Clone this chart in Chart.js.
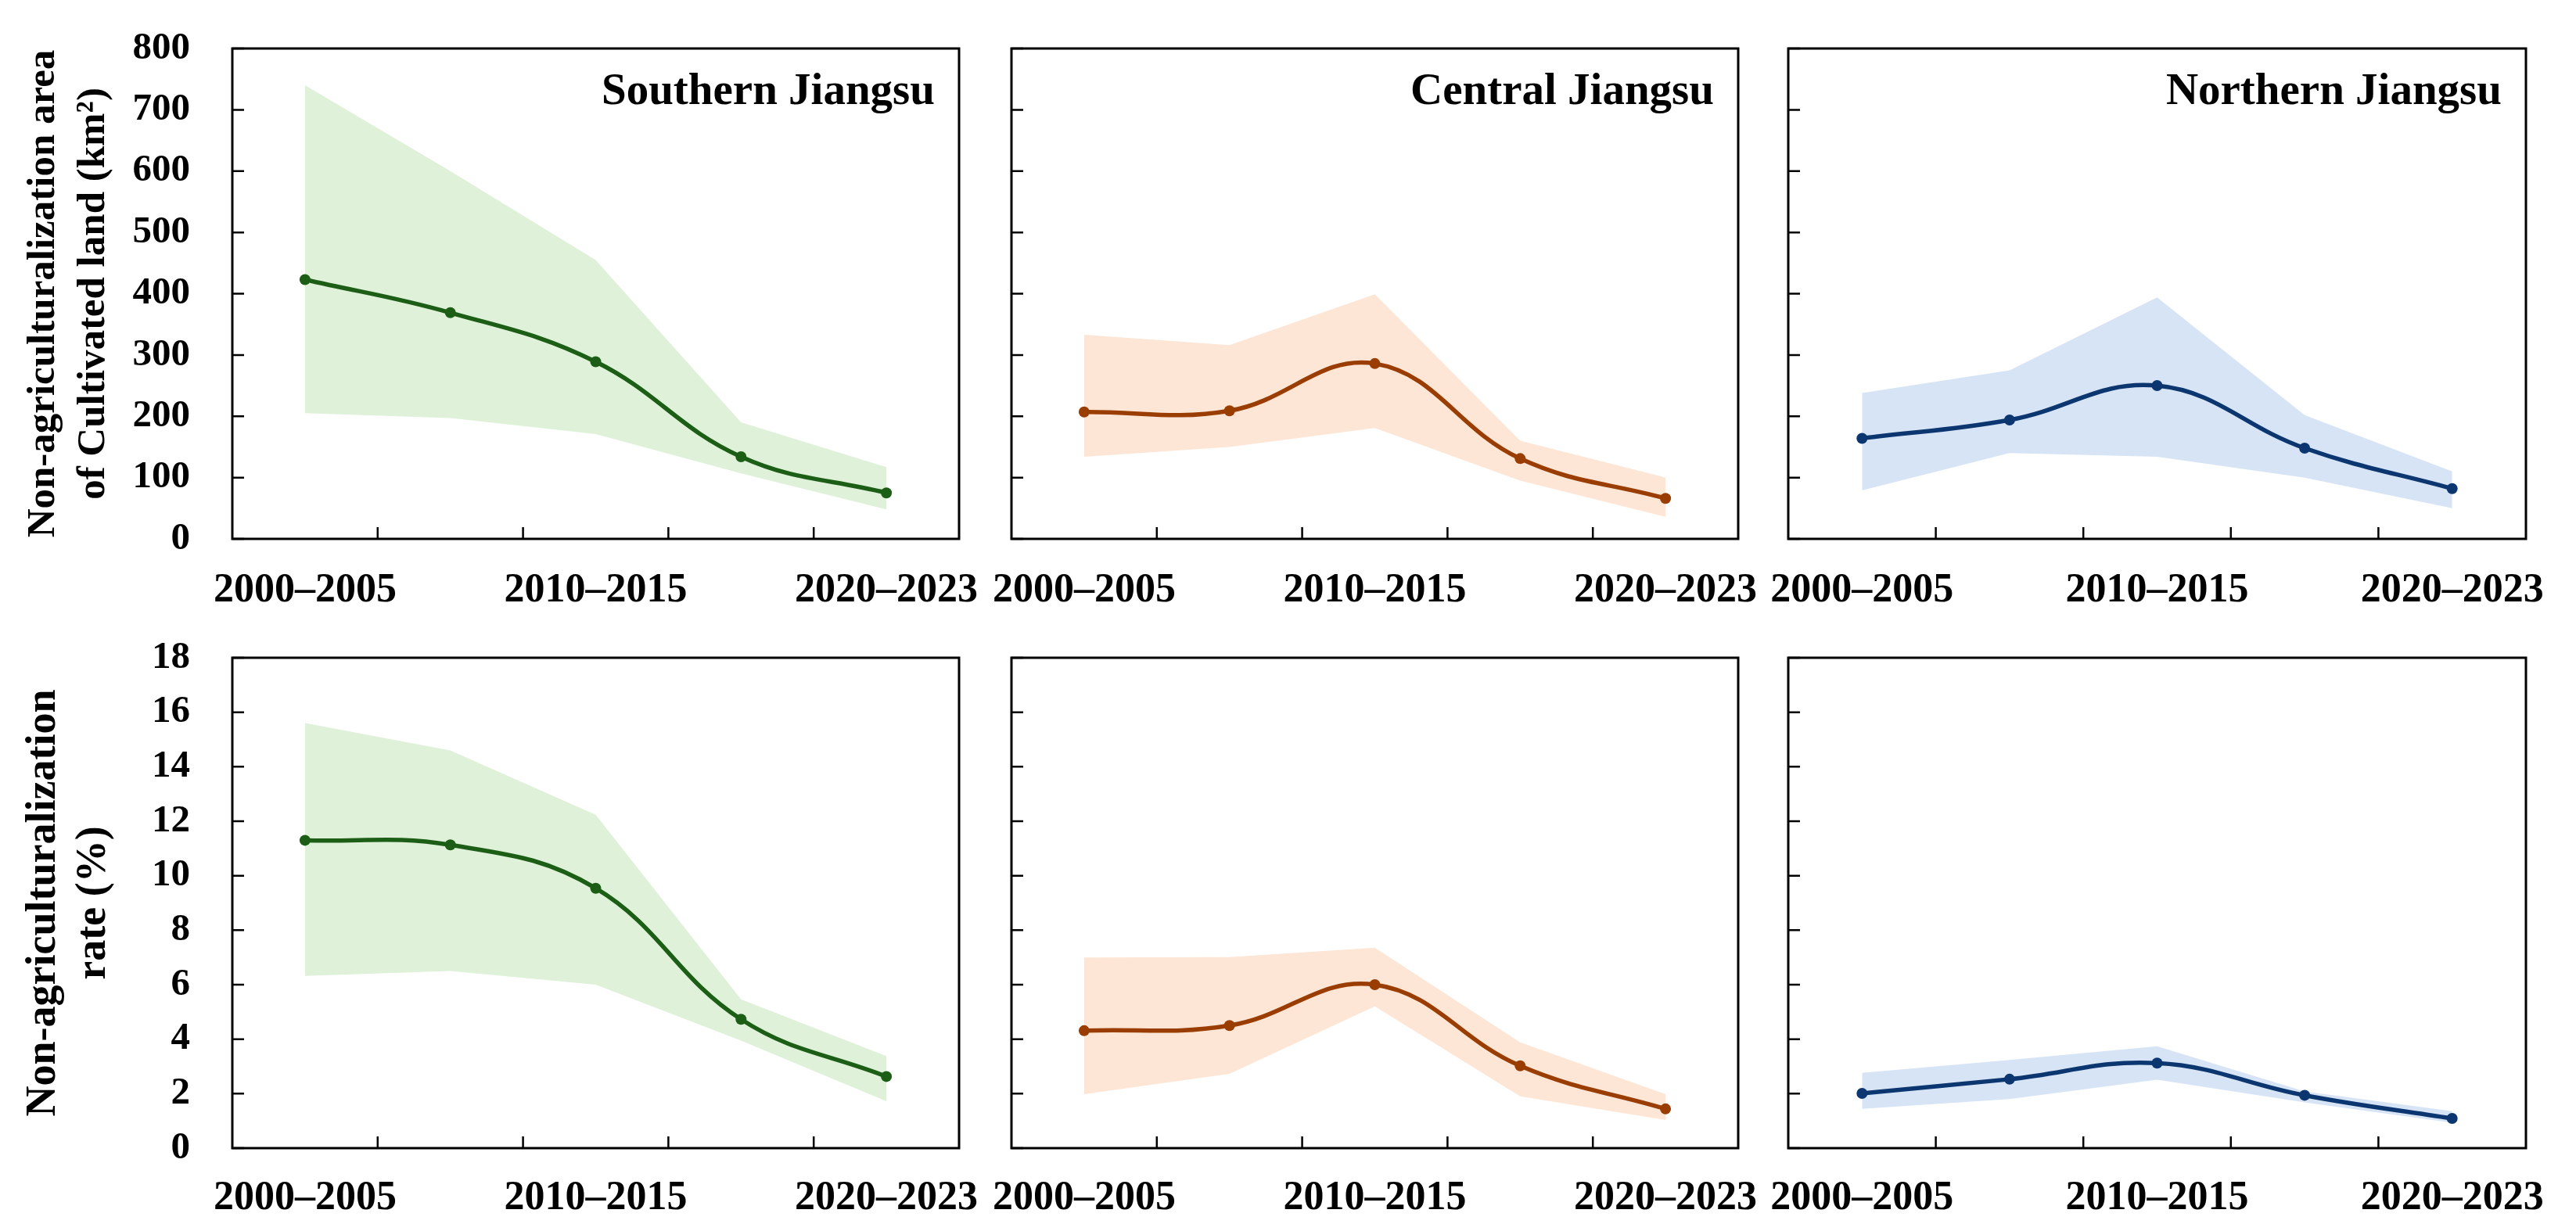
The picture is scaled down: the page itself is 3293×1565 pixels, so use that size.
<!DOCTYPE html>
<html>
<head>
<meta charset="utf-8">
<script src="https://cdn.jsdelivr.net/npm/chart.js@4.4.1/dist/chart.umd.min.js"></script>
<style>
html, body { margin: 0; padding: 0; background: #fff; }
#wrap { position: relative; width: 3293px; height: 1565px; overflow: hidden; }
.cell { position: absolute; }
</style>
</head>
<body>
<div id="wrap"></div>
<script>
// periods on the x axis (only every other one gets a label in the figure)
var periods = ['2000\u20132005', '2005\u20132010', '2010\u20132015', '2015\u20132020', '2020\u20132023']

// non-agriculturalization area (km2): mean, upper and lower bound
var southArea     = [423, 369, 289, 134, 75]
var southAreaHigh = [740, 600, 455, 190, 117]
var southAreaLow  = [205, 197, 171, 107, 48]
var centralArea     = [207, 209, 286, 131, 66]
var centralAreaHigh = [333, 316, 399, 160, 100]
var centralAreaLow  = [134, 150, 181, 95, 36]
var northArea     = [164, 194, 250, 148, 82]
var northAreaHigh = [238, 275, 394, 202, 110]
var northAreaLow  = [79, 140, 134, 100, 50]

// non-agriculturalization rate (%)
var southRate     = [11.3, 11.13, 9.54, 4.73, 2.63]
var southRateHigh = [15.6, 14.6, 12.24, 5.46, 3.38]
var southRateLow  = [6.32, 6.5, 6.0, 3.95, 1.72]
var centralRate     = [4.31, 4.5, 6.0, 3.02, 1.44]
var centralRateHigh = [7.0, 7.01, 7.36, 3.88, 1.98]
var centralRateLow  = [1.98, 2.73, 5.2, 1.9, 1.03]
var northRate     = [2.01, 2.53, 3.12, 1.94, 1.09]
var northRateHigh = [2.76, 3.24, 3.74, 2.08, 1.36]
var northRateLow  = [1.44, 1.8, 2.51, 1.68, 0.93]

var regionNames = ['Southern Jiangsu', 'Central Jiangsu', 'Northern Jiangsu']
var lineColors = ['#1d5e17', '#9a3d03', '#0b3670']
var fillColors = ['#dff1d8', '#fde6d5', '#d7e4f6']

var areaTitle = ['Non-agriculturalization area', 'of Cultivated land (km\u00b2)']
var rateTitle = ['Non-agriculturalization', 'rate (%)']

var FONT = "'Times New Roman', 'Liberation Serif', serif"
Chart.defaults.font.family = FONT
Chart.defaults.color = '#000'

// frame, inward ticks and region name
var framePlugin = {
  id: 'frame',
  afterDatasetsDraw: function(chart, args, opts){
    var ctx = chart.ctx
    var a = chart.chartArea
    var x = chart.scales.x
    var y = chart.scales.y
    ctx.save()
    ctx.strokeStyle = '#000'
    ctx.lineWidth = 2.5
    ctx.beginPath()
    for (var i = 1; i < x.ticks.length; i++){
      var px = (x.getPixelForTick(i - 1) + x.getPixelForTick(i)) / 2
      ctx.moveTo(px, a.bottom)
      ctx.lineTo(px, a.bottom - 15)
    }
    for (var t of y.ticks){
      var py = y.getPixelForValue(t.value)
      ctx.moveTo(a.left, py)
      ctx.lineTo(a.left + 15, py)
    }
    ctx.stroke()
    ctx.lineWidth = 3
    ctx.strokeRect(a.left, a.top, a.right - a.left, a.bottom - a.top)
    if (opts.text){
      ctx.fillStyle = '#000'
      ctx.font = 'bold 57px ' + FONT
      ctx.textAlign = 'right'
      ctx.textBaseline = 'alphabetic'
      ctx.fillText(opts.text, a.right - 31, a.top + 71)
    }
    ctx.restore()
  }
}

// panel geometry
var colLeft  = [297, 1293, 2286]
var colRight = [1226, 2222, 3229]
var rows = [
  {top: 0,   height: 790, padTop: 62, plotBottom: 689, max: 800, step: 100, title: areaTitle, titleSize: 51, tickPad: 27},
  {top: 780, height: 785, padTop: 61, plotBottom: 688, max: 18,  step: 2,   title: rateTitle, titleSize: 54, tickPad: 25}
]
var series = [
  [[southArea, southAreaHigh, southAreaLow], [centralArea, centralAreaHigh, centralAreaLow], [northArea, northAreaHigh, northAreaLow]],
  [[southRate, southRateHigh, southRateLow], [centralRate, centralRateHigh, centralRateLow], [northRate, northRateHigh, northRateLow]]
]

function buildPanel(r, c){
  var row = rows[r]
  var yW = c == 0 ? colLeft[0] : 40
  var divLeft = colLeft[c] - yW
  var padRight = 40
  var div = document.createElement('div')
  div.className = 'cell'
  div.style.left = divLeft + 'px'
  div.style.top = row.top + 'px'
  div.style.width = (colRight[c] - divLeft + padRight) + 'px'
  div.style.height = row.height + 'px'
  var canvas = document.createElement('canvas')
  div.appendChild(canvas)
  document.getElementById('wrap').appendChild(div)

  var d = series[r][c]
  var xH = row.height - row.plotBottom
  var lh = 64 / row.titleSize

  new Chart(canvas, {
    type: 'line',
    data: {
      labels: periods,
      datasets: [
        {data: d[0], borderColor: lineColors[c], backgroundColor: lineColors[c], borderWidth: 5.5,
         tension: 0.4, pointRadius: 7, pointBorderWidth: 0, pointBackgroundColor: lineColors[c], fill: false, order: 0},
        {data: d[1], borderWidth: 0, pointRadius: 0, tension: 0, backgroundColor: fillColors[c],
         borderColor: 'rgba(0,0,0,0)', fill: '+1', order: 1},
        {data: d[2], borderWidth: 0, pointRadius: 0, tension: 0, borderColor: 'rgba(0,0,0,0)', fill: false, order: 2}
      ]
    },
    options: {
      responsive: true,
      maintainAspectRatio: false,
      animation: false,
      devicePixelRatio: 1,
      layout: {padding: {top: row.padTop, right: padRight, left: 0, bottom: 0}},
      plugins: {
        legend: {display: false},
        tooltip: {enabled: false},
        frame: {text: r == 0 ? regionNames[c] : ''}
      },
      scales: {
        x: {
          type: 'category',
          offset: true,
          grid: {display: false, offset: true},
          border: {display: false},
          ticks: {
            autoSkip: false, maxRotation: 0, padding: row.tickPad,
            font: {size: 52, weight: 'bold'},
            callback: function(v, i){ return i % 2 == 0 ? this.getLabelForValue(v) : '' }
          },
          afterFit: function(s){ s.height = xH; s.paddingLeft = 0; s.paddingRight = 0 }
        },
        y: {
          min: 0, max: row.max,
          grid: {display: false},
          border: {display: false},
          ticks: {stepSize: row.step, display: c == 0, padding: 46, font: {size: 49, weight: 'bold'}},
          title: {display: c == 0, text: row.title, font: {size: row.titleSize, weight: 'bold', lineHeight: lh}, padding: {top: 24, bottom: 0}},
          afterFit: function(s){ s.width = yW; s.paddingTop = 0; s.paddingBottom = 0 }
        }
      }
    },
    plugins: [framePlugin]
  })
}

for (var r = 0; r < 2; r++){
  for (var c = 0; c < 3; c++){
    buildPanel(r, c)
  }
}
</script>
</body>
</html>
